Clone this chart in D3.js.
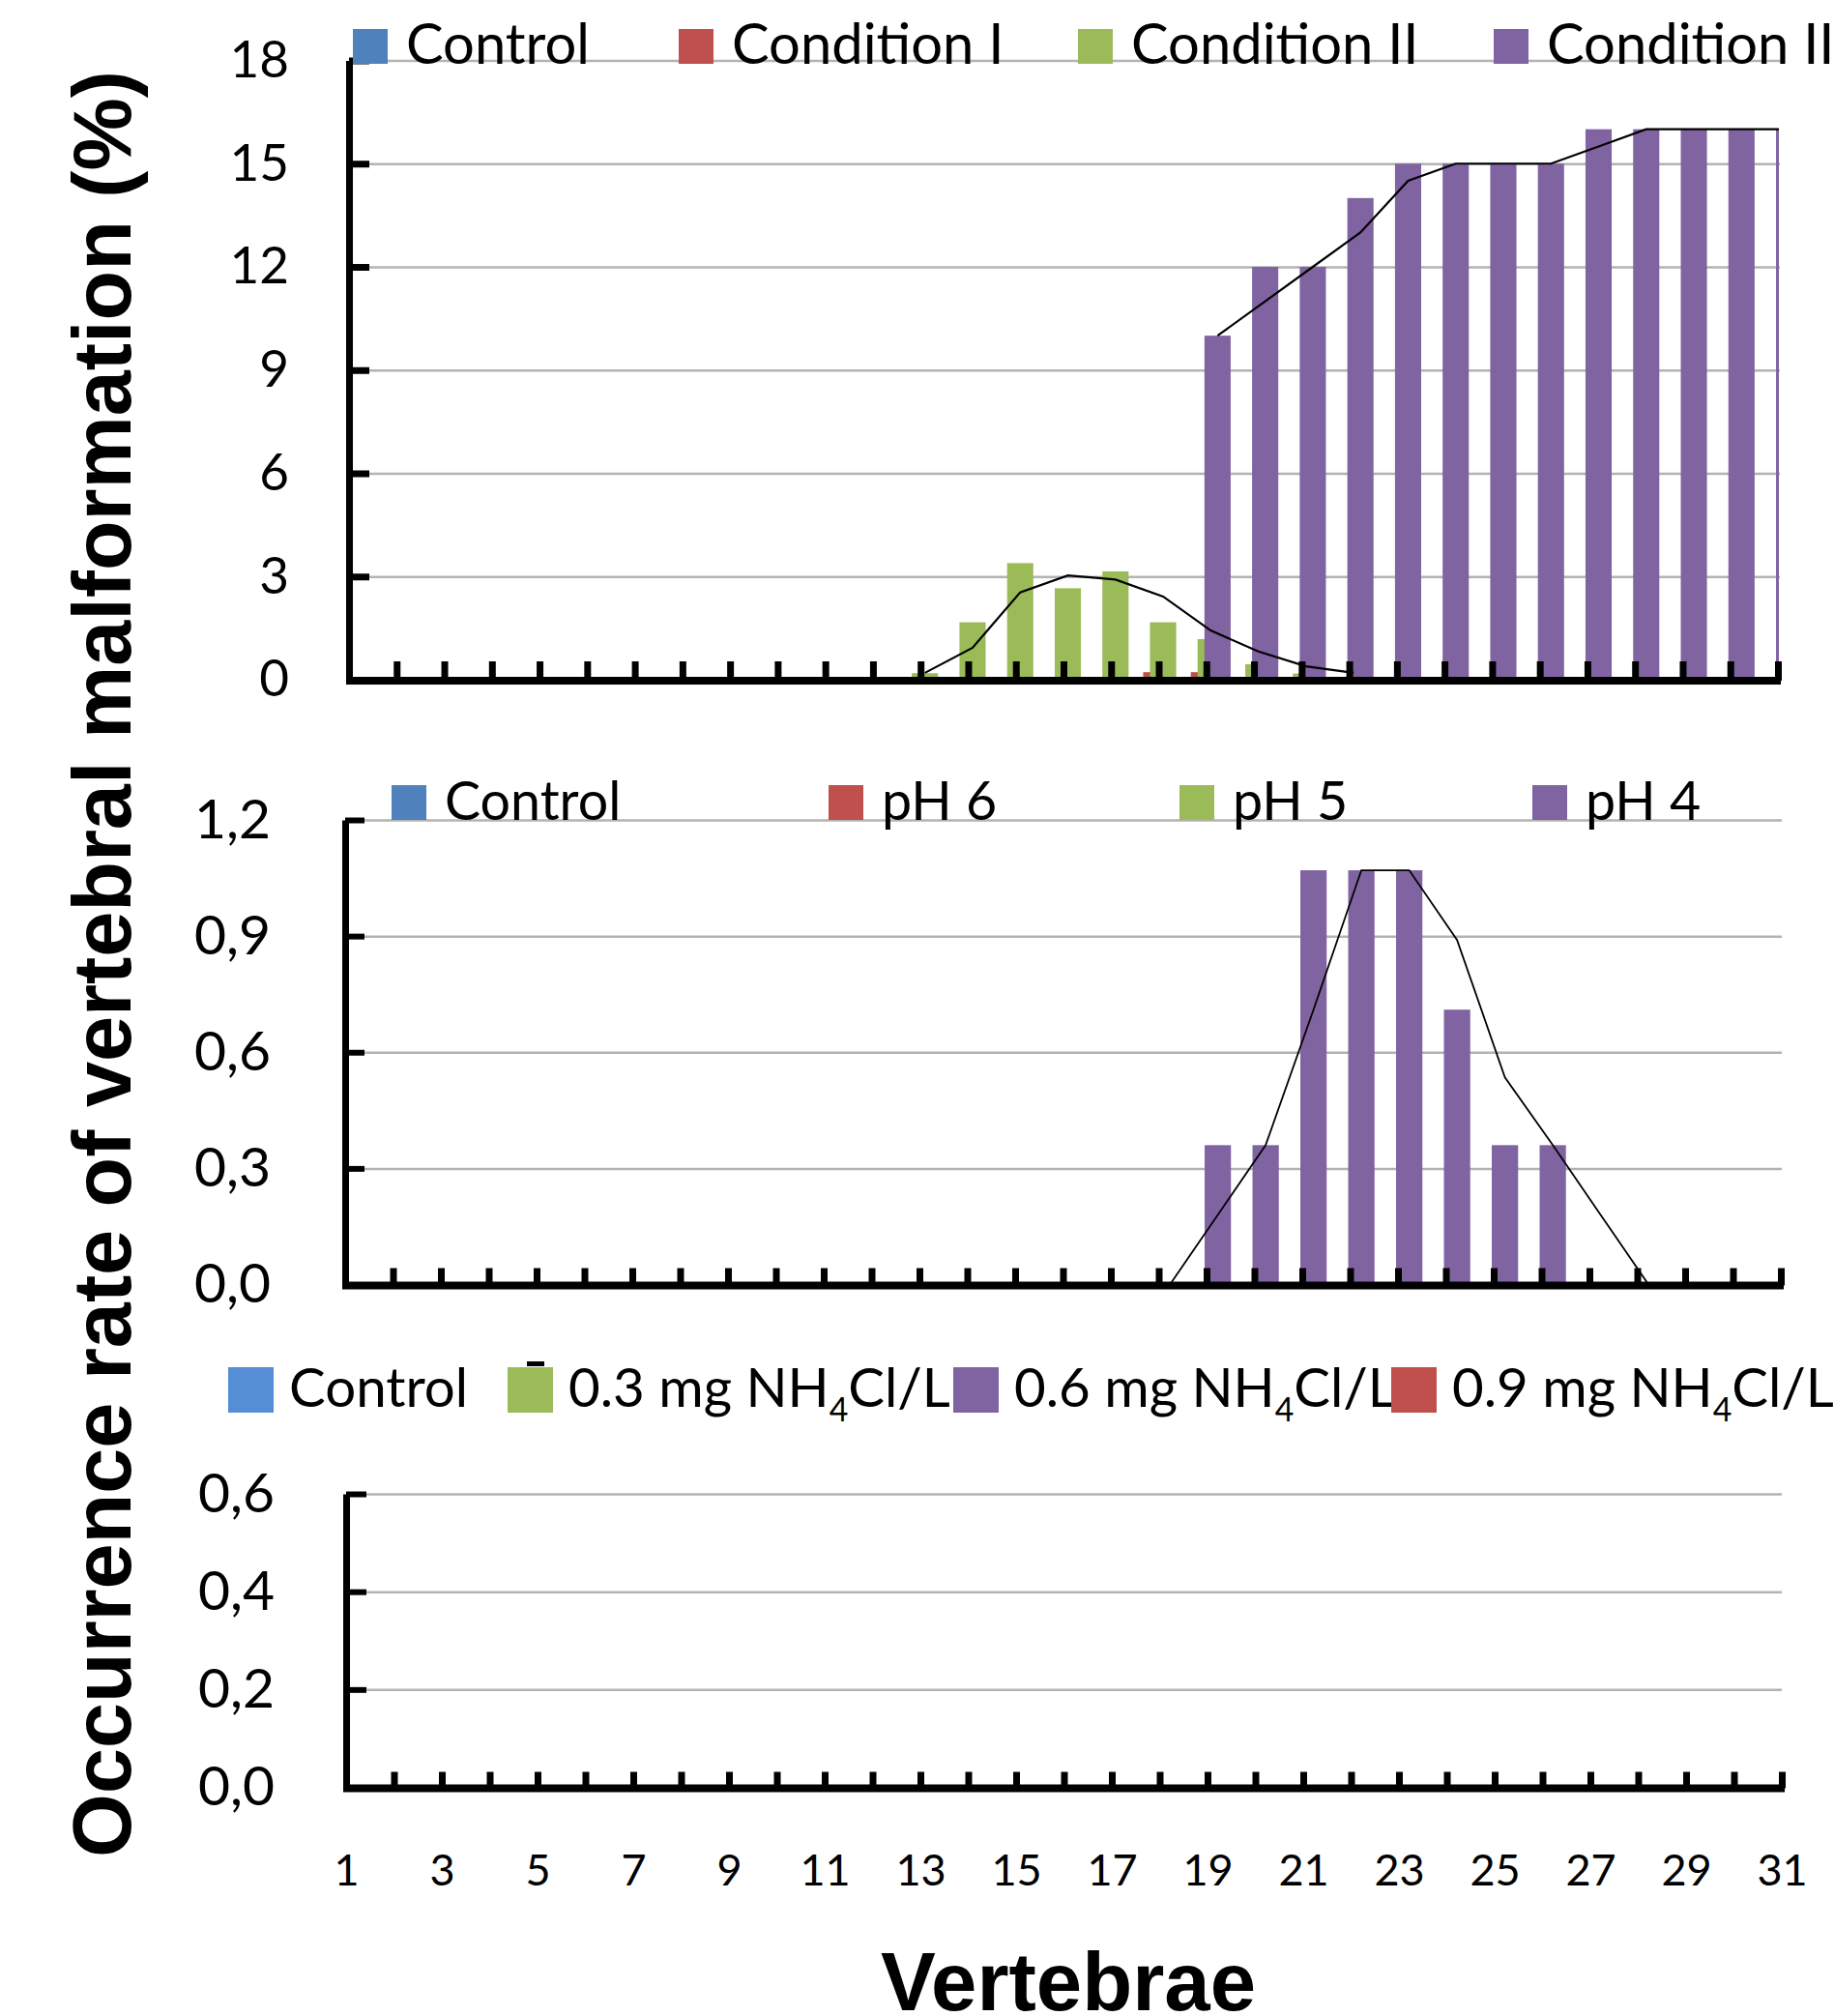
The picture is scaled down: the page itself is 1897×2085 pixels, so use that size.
<!DOCTYPE html>
<html lang="en">
<head>
<meta charset="UTF-8">
<title>Occurrence rate of vertebral malformation</title>
<script src="https://d3js.org/d3.v7.min.js"></script>
<style>
  body { margin: 0; background: #fff; }
  svg { display: block; }
  .grid line { stroke: #b3b3b3; stroke-width: 2.5; }
  .grid .domain { display: none; }
  .axis .domain, .axis line { stroke: #000; }
  .axis text, .legend text { font-family: Lato, sans-serif; fill: #000; }
  .title { font-family: "Liberation Sans", Arial, sans-serif; font-weight: bold; fill: #000; }
</style>
</head>
<body>
<svg id="chart"></svg>
<script>
// ---- data ----
const vertebrae = [1, 2, 3, 4, 5, 6, 7, 8, 9, 10, 11, 12, 13, 14, 15, 16,
                   17, 18, 19, 20, 21, 22, 23, 24, 25, 26, 27, 28, 29, 30, 31];
const vertebraLabels = [1, 3, 5, 7, 9, 11, 13, 15, 17, 19, 21, 23, 25, 27, 29, 31];

// top panel: culture conditions
const conditionNames = ["Control", "Condition I", "Condition II", "Condition III"];
const conditionColors = ["#4F81BD", "#C0504D", "#9BBB59", "#8064A2"];
const conditionTicks = [0, 3, 6, 9, 12, 15, 18];
const condIVertebrae = [18, 19];
const condIValues = [0.22, 0.22];
const condIIVertebrae = [13, 14, 15, 16, 17, 18, 19, 20, 21];
const condIIValues = [0.19, 1.67, 3.39, 2.66, 3.15, 1.67, 1.18, 0.45, 0.18];
const condIIIVertebrae = [19, 20, 21, 22, 23, 24, 25, 26, 27, 28, 29, 30, 31];
const condIIIValues = [10, 12, 12, 14, 15, 15, 15, 15, 16, 16, 16, 16, 16];
// trend lines drawn over the bars
const condIITrendVertebrae = [13, 14, 15, 16, 17, 18, 19, 20, 21, 22];
const condIITrendValues = [0.2, 0.93, 2.54, 3.03, 2.91, 2.42, 1.43, 0.82, 0.39, 0.2];
const condIIITrendVertebrae = [19, 20, 21, 22, 23, 24, 25, 26, 27, 28, 29, 30, 31];
const condIIITrendValues = [10, 11, 12, 13, 14.5, 15, 15, 15, 15.5, 16, 16, 16, 16];

// middle panel: pH
const phNames = ["Control", "pH 6", "pH 5", "pH 4"];
const phColors = ["#4F81BD", "#C0504D", "#9BBB59", "#8064A2"];
const phTicks = [0, 0.3, 0.6, 0.9, 1.2];
const ph4Vertebrae = [19, 20, 21, 22, 23, 24, 25, 26];
const ph4Values = [0.36, 0.36, 1.07, 1.07, 1.07, 0.71, 0.36, 0.36];
const ph4TrendVertebrae = [18, 19, 20, 21, 22, 23, 24, 25, 26, 27, 28];
const ph4TrendValues = [0, 0.18, 0.36, 0.71, 1.07, 1.07, 0.89, 0.535, 0.36, 0.18, 0];

// bottom panel: ammonium chloride (no malformations)
const nh4Names = ["Control", "0.3 mg NH|4|Cl/L", "0.6 mg NH|4|Cl/L", "0.9 mg NH|4|Cl/L"];
const nh4Colors = ["#558ED5", "#9BBB59", "#8064A2", "#C0504D"];
const nh4Ticks = [0, 0.2, 0.4, 0.6];

// ---- layout ----
const W = 1897, H = 2085;
const svg = d3.select("#chart").attr("width", W).attr("height", H);

const commaFmt = d3.formatLocale({ decimal: ",", thousands: ".", grouping: [3], currency: ["", ""] }).format(".1f");

// scale a font so that a sample string gets the wanted width
function fitFont(sample, family, weight, target) {
  const t = svg.append("text")
    .attr("font-family", family).attr("font-weight", weight)
    .attr("font-size", 100).text(sample);
  const w = t.node().getComputedTextLength();
  t.remove();
  return 100 * target / w;
}

// legend label, "|" marks the subscript part
function writeLabel(sel, name, size) {
  sel.attr("font-size", size);
  const parts = name.split("|");
  sel.append("tspan").text(parts[0]);
  if (parts.length > 1) {
    sel.append("tspan").attr("font-size", size * 0.6).attr("dy", size * 0.27).text(parts[1]);
    sel.append("tspan").attr("dy", -size * 0.27).text(parts[2]);
  }
}

const panels = [
  {
    names: conditionNames, colors: conditionColors, ticks: conditionTicks, fmt: d3.format("d"),
    bars: [
      { s: 1, v: condIVertebrae, y: condIValues },
      { s: 2, v: condIIVertebrae, y: condIIValues },
      { s: 3, v: condIIIVertebrae, y: condIIIValues }
    ],
    trends: [
      { s: 2, v: condIITrendVertebrae, y: condIITrendValues, w: 2.2 },
      { s: 3, v: condIIITrendVertebrae, y: condIIITrendValues, w: 2.2 }
    ],
    xl: 361, xr: 1839, y0: 703, yTop: 62.5, gridRight: 1841,
    tickLen: 21, tickW: 7, xTickLen: 20,
    labelPad: 62, labelSize: 53,
    legend: { xs: [365, 702, 1115, 1545], top: 30, size: 36, gap: 55, base: 66, widths: [188, 282, 299] }
  },
  {
    names: phNames, colors: phColors, ticks: phTicks, fmt: commaFmt,
    bars: [{ s: 3, v: ph4Vertebrae, y: ph4Values }],
    trends: [{ s: 3, v: ph4TrendVertebrae, y: ph4TrendValues, w: 1.8 }],
    xl: 357, xr: 1842, y0: 1328.5, yTop: 848, gridRight: 1843,
    tickLen: 20, tickW: 6, xTickLen: 18,
    labelPad: 77, labelSize: 57,
    legend: { xs: [405, 857, 1220, 1585], top: 812, size: 36, gap: 55, base: 848, widths: [188, 120, 115, 117] }
  },
  {
    names: nh4Names, colors: nh4Colors, ticks: nh4Ticks, fmt: commaFmt,
    bars: [], trends: [],
    xl: 358, xr: 1843, y0: 1848.5, yTop: 1545, gridRight: 1843,
    tickLen: 21, tickW: 6, xTickLen: 17,
    labelPad: 74, labelSize: 57,
    legend: { xs: [236, 525, 986, 1439], top: 1414, size: 47, gap: 63, base: 1455, widths: [191, 392, 392] }
  }
];

panels.forEach((p, pi) => {
  const x = d3.scaleLinear().domain([1, 31]).range([p.xl, p.xr]);
  const y = d3.scaleLinear().domain([0, d3.max(p.ticks)]).range([p.y0, p.yTop]);
  const step = x(2) - x(1);
  // overlapping clustered bars: each series shifted a little to the right
  const shift = d3.scaleLinear().domain([0, 3]).range([-0.47, -0.04]);
  const barW = 0.55 * step;

  const g = svg.append("g");
  const clipId = "clip" + pi;
  svg.append("clipPath").attr("id", clipId)
    .append("rect").attr("x", p.xl).attr("y", p.yTop - 5)
    .attr("width", p.xr - p.xl + 1).attr("height", p.y0 - p.yTop + 5);

  // gridlines
  g.append("g").attr("class", "grid")
    .attr("transform", `translate(${p.xl},0)`)
    .call(d3.axisLeft(y).tickValues(p.ticks.filter(t => t > 0))
      .tickSize(-(p.gridRight - p.xl)).tickFormat(""));

  // bars
  const plot = g.append("g").attr("clip-path", `url(#${clipId})`);
  p.bars.forEach(b => {
    const rows = b.v.map((v, i) => ({ v, val: b.y[i] }));
    plot.append("g").selectAll("rect").data(rows).join("rect")
      .attr("x", d => x(d.v) + shift(b.s) * step)
      .attr("y", d => y(d.val))
      .attr("width", barW)
      .attr("height", d => y(0) - y(d.val))
      .attr("fill", p.colors[b.s]);
  });

  // trend lines
  p.trends.forEach(t => {
    const rows = t.v.map((v, i) => ({ v, val: t.y[i] }));
    const line = d3.line()
      .x(d => x(d.v) + (shift(t.s) + 0.275) * step)
      .y(d => y(d.val));
    plot.append("path").datum(rows)
      .attr("d", line).attr("fill", "none")
      .attr("stroke", "#000").attr("stroke-width", t.w);
  });

  // y axis
  const ya = g.append("g").attr("class", "axis")
    .attr("transform", `translate(${p.xl},0)`)
    .call(d3.axisLeft(y).tickValues(p.ticks).tickSize(-p.tickLen)
      .tickSizeOuter(0).tickPadding(p.labelPad).tickFormat(p.fmt));
  ya.select(".domain").attr("stroke-width", 7);
  ya.selectAll(".tick line").attr("stroke-width", p.tickW);
  ya.selectAll("text").attr("font-size", p.labelSize).attr("font-family", "Lato");

  // x axis (ticks pointing up)
  const xa = g.append("g").attr("class", "axis")
    .attr("transform", `translate(0,${p.y0 + 1})`)
    .call(d3.axisBottom(x).tickValues(vertebrae).tickSize(-p.xTickLen)
      .tickSizeOuter(0).tickFormat(""));
  xa.select(".domain").attr("stroke-width", 8).attr("d", `M${p.xl - 3},0H${p.xr + 3}`);
  xa.selectAll(".tick line").attr("stroke-width", 7);

  if (pi === panels.length - 1) {
    const xl = g.append("g").attr("class", "axis")
      .attr("transform", `translate(0,${p.y0 + 1})`)
      .call(d3.axisBottom(x).tickValues(vertebraLabels).tickSize(0).tickPadding(69));
    xl.select(".domain").remove();
    xl.selectAll("text").attr("font-size", 45).attr("font-family", "Lato");
  }

  // legend: one font size per legend, fitted to the widths of its labels
  const L = p.legend;
  const lg = svg.append("g").attr("class", "legend");
  let measured = 0;
  L.widths.forEach((w, i) => {
    const t = lg.append("text");
    writeLabel(t, p.names[i], 100);
    measured += t.node().getComputedTextLength();
    t.remove();
  });
  const lFont = 100 * d3.sum(L.widths) / measured;
  p.names.forEach((name, i) => {
    lg.append("rect").attr("x", L.xs[i]).attr("y", L.top)
      .attr("width", L.size).attr("height", L.size).attr("fill", p.colors[i]);
    writeLabel(lg.append("text").attr("x", L.xs[i] + L.gap).attr("y", L.base), name, lFont);
  });
  if (pi === 2) {
    // small stray mark above the second legend key
    lg.append("rect").attr("x", 545).attr("y", 1408).attr("width", 18).attr("height", 5).attr("fill", "#000");
  }
});

// axis titles
const yTitle = "Occurrence rate of vertebral malformation (%)";
const yTitleSize = fitFont(yTitle, "Liberation Sans", "bold", 1848);
svg.append("text").attr("class", "title")
  .attr("transform", "translate(135,997) rotate(-90)")
  .attr("text-anchor", "middle")
  .attr("font-size", yTitleSize)
  .text(yTitle);

svg.append("text").attr("class", "title")
  .attr("x", 1105).attr("y", 2079)
  .attr("text-anchor", "middle")
  .attr("font-size", fitFont("Vertebrae", "Liberation Sans", "bold", 388))
  .text("Vertebrae");
</script>
</body>
</html>
